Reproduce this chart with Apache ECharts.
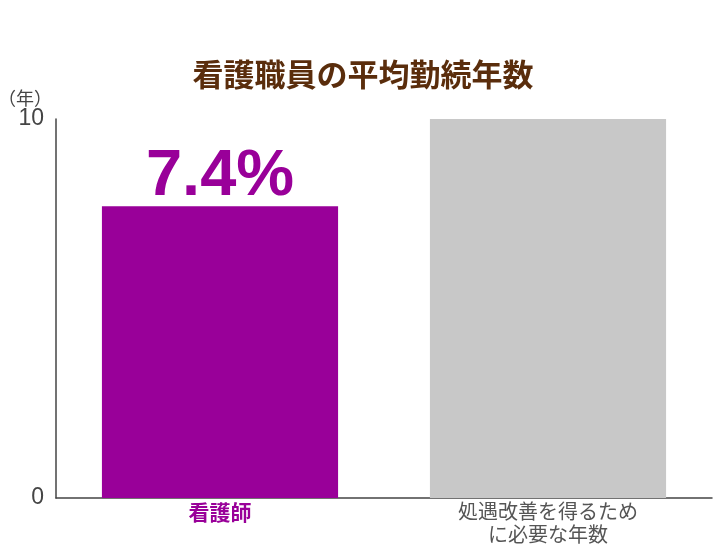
<!DOCTYPE html>
<html><head><meta charset="utf-8">
<script src="https://cdn.jsdelivr.net/npm/echarts@6/dist/echarts.min.js"></script>
<style>html,body{margin:0;padding:0;background:#fff}#c{width:726px;height:545px}</style>
</head><body><div id="c"></div>
<script>
const titleText = '看護職員の平均勤続年数';
const categories = ['看護師', '処遇改善を得るため\nに必要な年数'];
const values = [7.7, 10];
const barLabels = ['7.4%', ''];
const barColors = ['#990099', '#c8c8c8'];
const yTicks = [0, 10];
const yUnit = '（年）';

const chart = echarts.init(document.getElementById('c'));
chart.setOption({
  animation: false,
  title: {text: titleText, left: 'center', top: 54,
    textStyle: {fontFamily: 'Noto Sans CJK JP', fontWeight: 'bold', fontSize: 31, color: '#5a2d0c'}},
  grid: {left: 56, right: 14, top: 119, bottom: 47, outerBoundsMode: 'none', containLabel: false},
  xAxis: {type: 'category', data: categories,
    axisLine: {lineStyle: {color: '#444', width: 1.5}}, axisTick: {show: false},
    axisLabel: {interval: 0, margin: 2, fontFamily: 'Noto Sans CJK JP',
      formatter: (v, i) => i === 0 ? '{a|' + v + '}' : v.split('\n').map(s => '{b|' + s + '}').join('\n'),
      rich: {a: {color: '#990099', fontWeight: 'bold', fontSize: 21, fontFamily: 'Noto Sans CJK JP', lineHeight: 24},
             b: {color: '#555', fontSize: 20, fontFamily: 'Noto Sans CJK JP', lineHeight: 23}}}},
  yAxis: {type: 'value', min: yTicks[0], max: yTicks[1], interval: 10,
    name: yUnit, nameLocation: 'end', nameGap: 6,
    nameTextStyle: {color: '#444', fontSize: 18, fontFamily: 'Noto Sans CJK JP', align: 'right', padding: [0, 4, 0, 0]},
    axisLine: {show: true, lineStyle: {color: '#444', width: 1.5}}, axisTick: {show: false},
    splitLine: {show: false},
    axisLabel: {color: '#444', fontSize: 23, fontFamily: 'Liberation Sans', margin: 12}},
  series: [{type: 'bar', barWidth: '72%',
    data: values.map((v, i) => ({value: v, itemStyle: {color: barColors[i]},
      label: {show: !!barLabels[i], formatter: barLabels[i]}})),
    label: {position: 'top', distance: -3, color: '#990099', fontSize: 65, fontWeight: 'bold',
      fontFamily: 'Liberation Sans'}}]
});
</script></body></html>
